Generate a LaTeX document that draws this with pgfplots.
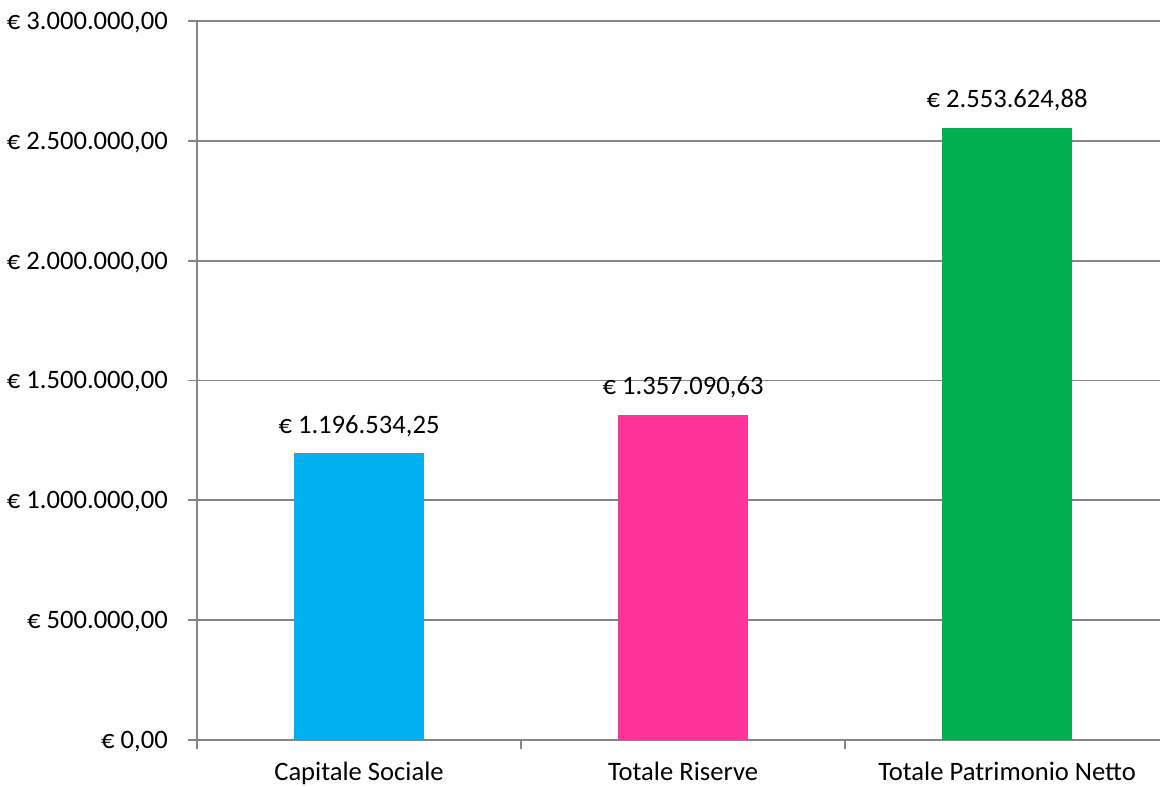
\documentclass[border=0pt]{standalone}
\usepackage{pgfplots}
\pgfplotsset{compat=1.18}
\usepackage{fontspec}
\setmainfont{Carlito}

\definecolor{barcyan}{RGB}{0,176,240}
\definecolor{barpink}{RGB}{255,51,153}
\definecolor{bargreen}{RGB}{0,176,80}
\definecolor{axisgray}{RGB}{134,134,134}

\newcommand{\lbl}{\fontsize{26.6}{32}\selectfont}

\begin{document}
\begin{tikzpicture}
\begin{axis}[
  at={(0,0)}, anchor=south west,
  scale only axis,
  width=963pt, height=719pt,
  xmin=-0.5, xmax=2.472,
  ymin=0, ymax=3000000,
  scaled y ticks=false,
  axis lines*=left,
  axis line style={draw=axisgray, line width=1.8pt},
  tick style={draw=axisgray, line width=1.8pt},
  tick align=outside,
  major tick length=9pt,
  ymajorgrids,
  major grid style={draw=axisgray, line width=1.8pt},
  ytick={0,500000,1000000,1500000,2000000,2500000,3000000},
  yticklabels={{€ 0,00},{€ 500.000,00},{€ 1.000.000,00},{€ 1.500.000,00},{€ 2.000.000,00},{€ 2.500.000,00},{€ 3.000.000,00}},
  yticklabel style={font=\lbl, anchor=base east, inner sep=0pt, xshift=-20pt, yshift=-8.5pt},
  xtick={-0.5,0.5,1.5},
  xticklabels={},
  extra x ticks={0,1,2},
  extra x tick labels={Capitale Sociale,Totale Riserve,Totale Patrimonio Netto},
  extra x tick style={major tick length=0pt, tick label style={font=\lbl, anchor=base, inner sep=0pt, yshift=-41pt}},
  ybar,
  bar width=130pt,
  nodes near coords={€ \pgfplotspointmeta},
  point meta=explicit symbolic,
  every node near coord/.append style={font=\lbl, anchor=base, inner sep=0pt, yshift=20pt, text=black},
]
\addplot[fill=barcyan, draw=none, bar shift=0pt] table[x=x, y=y, meta=lab, row sep=\\] {
x y lab \\
0 1196534.25 1.196.534,25 \\
};
\addplot[fill=barpink, draw=none, bar shift=0pt] table[x=x, y=y, meta=lab, row sep=\\] {
x y lab \\
1 1357090.63 1.357.090,63 \\
};
\addplot[fill=bargreen, draw=none, bar shift=0pt] table[x=x, y=y, meta=lab, row sep=\\] {
x y lab \\
2 2553624.88 2.553.624,88 \\
};
\end{axis}
\pgfresetboundingbox
\path[use as bounding box] (-197pt,-47pt) rectangle (963pt,740pt);
\end{tikzpicture}
\end{document}
